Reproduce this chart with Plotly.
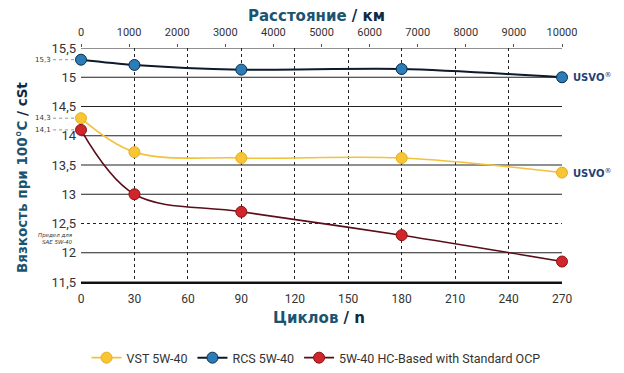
import plotly.graph_objects as go

# ---- data ----
cycles = [0, 30, 90, 180, 270]
vst = [14.3, 13.72, 13.62, 13.62, 13.37]
rcs = [15.3, 15.21, 15.13, 15.14, 15.0]
hc_ocp = [14.1, 13.0, 12.7, 12.3, 11.85]

x_ticks = [0, 30, 60, 90, 120, 150, 180, 210, 240, 270]
y_ticks = [11.5, 12, 12.5, 13, 13.5, 14, 14.5, 15, 15.5]
y_ticktext = ["11,5", "12", "12,5", "13", "13,5", "14", "14,5", "15", "15,5"]
km_ticks = [0, 1000, 2000, 3000, 4000, 5000, 6000, 7000, 8000, 9000, 10000]
km_ticktext = [str(v) for v in km_ticks]
km_range = [0, 10000]
sae_limit = 12.5
start_labels = [(15.3, "15,3"), (14.3, "14,3"), (14.1, "14,1")]

NAVY = "#0f2a45"
TEAL = "#1b5470"

fig = go.Figure()

fig.add_trace(go.Scatter(
    x=cycles, y=vst, name="VST 5W-40", mode="lines+markers",
    line=dict(color="#f2c23a", width=1.6, shape="spline", smoothing=1.0),
    marker=dict(size=11, color="#f8c635", line=dict(color="#e6ae1e", width=1)),
    cliponaxis=False))
fig.add_trace(go.Scatter(
    x=cycles, y=rcs, name="RCS 5W-40", mode="lines+markers",
    line=dict(color="#0c1a2b", width=2, shape="spline", smoothing=0.8),
    marker=dict(size=11, color="#2a7db8", line=dict(color="#0d2c48", width=1)),
    cliponaxis=False))
fig.add_trace(go.Scatter(
    x=cycles, y=hc_ocp, name="5W-40 HC-Based with Standard OCP", mode="lines+markers",
    line=dict(color="#5a0e18", width=1.6, shape="spline", smoothing=1.0),
    marker=dict(size=11, color="#d0262b", line=dict(color="#8a1212", width=1)),
    cliponaxis=False))

# invisible trace to activate top axis
fig.add_trace(go.Scatter(x=km_range, y=[None, None], xaxis="x2", mode="markers",
                         showlegend=False, hoverinfo="skip"))

# horizontal grid lines
for v in y_ticks:
    if v == sae_limit:
        fig.add_hline(y=v, line=dict(color="#222", width=1.2, dash="dot"), layer="below")
    else:
        fig.add_hline(y=v, line=dict(color="#222", width=1.2), layer="below")

# start value labels with dotted leaders
for val, txt in start_labels:
    fig.add_shape(type="line", xref="paper", yref="y", x0=-0.058, x1=0, y0=val, y1=val,
                  line=dict(color="#777", width=0.8, dash="dot"), layer="below")
    fig.add_annotation(xref="paper", yref="y", x=-0.058, y=val, text=txt, showarrow=False,
                       xanchor="right", yanchor="middle",
                       font=dict(size=7, color="#333", family="DejaVu Sans"))

fig.add_annotation(xref="paper", yref="y", x=-0.012, y=sae_limit, yshift=-15,
                   text="<i>Предел для<br>SAE 5W-40</i>", showarrow=False, xanchor="right",
                   yanchor="middle",
                   font=dict(size=5.5, color="#333", family="DejaVu Sans"), align="right")

# USVO logos
for val in [rcs[-1], vst[-1]]:
    fig.add_annotation(x=cycles[-1], y=val, xshift=9, text="<b>USVO</b><sup>®</sup>",
                       showarrow=False, xanchor="left", yanchor="middle",
                       font=dict(size=10, color="#1e3f78", family="DejaVu Sans"))

# axis titles
fig.add_annotation(xref="paper", yref="paper", x=0.49, y=1, yshift=32,
                   xanchor="center", yanchor="middle",
                   text=f"<b><span style='color:{TEAL}'>Расстояние</span> / км</b>",
                   showarrow=False, font=dict(size=15, color=NAVY, family="DejaVu Sans"))
fig.add_annotation(xref="paper", yref="paper", x=0.495, y=0, yshift=-36,
                   xanchor="center", yanchor="middle",
                   text=f"<b><span style='color:{TEAL}'>Циклов</span> / n</b>",
                   showarrow=False, font=dict(size=15, color=NAVY, family="DejaVu Sans"))
fig.add_annotation(xref="paper", yref="paper", x=0, xshift=-59, y=0.5, yshift=-13,
                   textangle=-90, xanchor="center", yanchor="middle",
                   text=f"<b><span style='color:{TEAL}'>Вязкость при 100°C</span> / cSt</b>",
                   showarrow=False, font=dict(size=13.5, color=NAVY, family="DejaVu Sans"))

fig.update_layout(
    width=616, height=365,
    margin=dict(l=73, r=62, t=40, b=91, autoexpand=False),
    paper_bgcolor="white", plot_bgcolor="white",
    font=dict(family="Roboto", color="#222"),
    showlegend=True,
    legend=dict(orientation="h", x=0.5, xanchor="center", xref="container",
                y=0.041, yanchor="middle", yref="container",
                font=dict(size=12.5, color="#333", family="Roboto"),
                itemwidth=30, bgcolor="rgba(0,0,0,0)"),
    xaxis=dict(range=[0, 270], tickvals=x_ticks, showgrid=True, gridcolor="#222",
               griddash="dot", gridwidth=1, zeroline=False, showline=True,
               linecolor="#111", linewidth=1.5, ticks="", ticklabelstandoff=5,
               automargin=False, tickfont=dict(size=12, color="#333")),
    xaxis2=dict(range=km_range, overlaying="x", side="top", tickvals=km_ticks,
                ticktext=km_ticktext,
                showgrid=False, zeroline=False, showline=False, ticks="outside",
                ticklen=3, tickcolor="#555", ticklabelstandoff=4, automargin=False,
                tickfont=dict(size=11, color="#333")),
    yaxis=dict(range=[11.5, 15.5], tickvals=y_ticks, ticktext=y_ticktext, showgrid=False,
               zeroline=False, showline=False, ticks="", ticklabelstandoff=4,
               automargin=False, tickfont=dict(size=13, color="#333")),
)

fig.write_html("out.html")
